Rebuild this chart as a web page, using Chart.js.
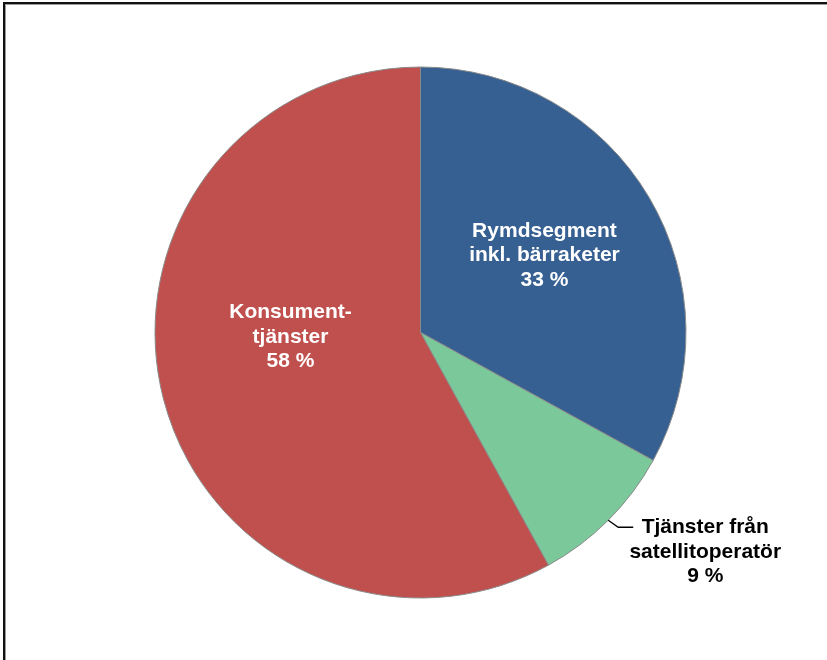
<!DOCTYPE html>
<html>
<head>
<meta charset="utf-8">
<script src="https://cdn.jsdelivr.net/npm/chart.js@4"></script>
<style>
  html, body { margin: 0; padding: 0; background: #fff; }
  #wrap { position: relative; width: 827px; height: 660px; overflow: hidden; }
  #frame {
    position: absolute; left: 3px; top: 2px; width: 1000px; height: 1000px;
    border-left: 2px solid #111; border-top: 2px solid #111;
    box-shadow: inset 1px 1px 0 #9a9a9a;
  }
  canvas { position: absolute; left: 0; top: 0; }
</style>
</head>
<body>
<div id="wrap">
  <div id="frame"></div>
  <canvas id="chart" width="827" height="660"></canvas>
</div>
<script>
// Marknadsandelar per segment (procent)
const segments = ["Rymdsegment inkl. bärraketer", "Tjänster från satellitoperatör", "Konsumenttjänster"];
const shares = [33, 9, 58];
const labelLines = [
  ["Rymdsegment", "inkl. bärraketer"],
  ["Tjänster från", "satellitoperatör"],
  ["Konsument-", "tjänster"]
];
const colors = ["#366092", "#7bc99b", "#c0504d"];

// label layout: inside slices at a fraction of the radius, or outside with a leader line
const placement = [
  { inside: true, r: 0.55, turn: -1.3, color: "#fff" },
  { inside: false, color: "#000" },
  { inside: true, r: 0.49, turn: 12.4, color: "#fff" }
];

const FONT = 'bold 21px "Liberation Sans", Arial, sans-serif';
const LINE_H = 24.5;

const sliceLabels = {
  id: "sliceLabels",
  afterDatasetsDraw(chart) {
    const { ctx } = chart;
    const arcs = chart.getDatasetMeta(0).data;
    ctx.save();
    ctx.font = FONT;
    ctx.textAlign = "center";
    ctx.textBaseline = "middle";
    arcs.forEach((arc, i) => {
      const { x, y, startAngle, endAngle, outerRadius } = arc.getProps(["x", "y", "startAngle", "endAngle", "outerRadius"], true);
      const lines = labelLines[i].concat([shares[i] + " %"]);
      const p = placement[i];
      const mid = (startAngle + endAngle) / 2;
      ctx.fillStyle = p.color;
      if (p.inside) {
        const a = mid + p.turn * Math.PI / 180;
        const cx = x + Math.cos(a) * outerRadius * p.r;
        const cy = y + Math.sin(a) * outerRadius * p.r;
        const top = cy - (lines.length - 1) / 2 * LINE_H;
        lines.forEach((t, k) => ctx.fillText(t, cx, top + k * LINE_H));
      } else {
        const sx = x + Math.cos(mid) * outerRadius;
        const sy = y + Math.sin(mid) * outerRadius;
        ctx.strokeStyle = "#000";
        ctx.lineWidth = 1.3;
        ctx.beginPath();
        ctx.moveTo(sx, sy);
        ctx.lineTo(sx + 10, sy + 7);
        ctx.lineTo(sx + 25, sy + 7);
        ctx.stroke();
        const tx = sx + 97;
        lines.forEach((t, k) => ctx.fillText(t, tx, sy + 7 + k * LINE_H));
      }
    });
    ctx.restore();
  }
};

new Chart(document.getElementById("chart"), {
  type: "pie",
  data: {
    labels: segments,
    datasets: [{
      data: shares,
      backgroundColor: colors,
      borderColor: "#8a8a8a",
      borderWidth: 1,
      borderAlign: "center"
    }]
  },
  options: {
    responsive: false,
    animation: false,
    radius: 265.5,
    layout: { padding: { left: 155, right: 141, top: 67, bottom: 62 } },
    plugins: {
      legend: { display: false },
      tooltip: { enabled: false }
    }
  },
  plugins: [sliceLabels]
});
</script>
</body>
</html>
